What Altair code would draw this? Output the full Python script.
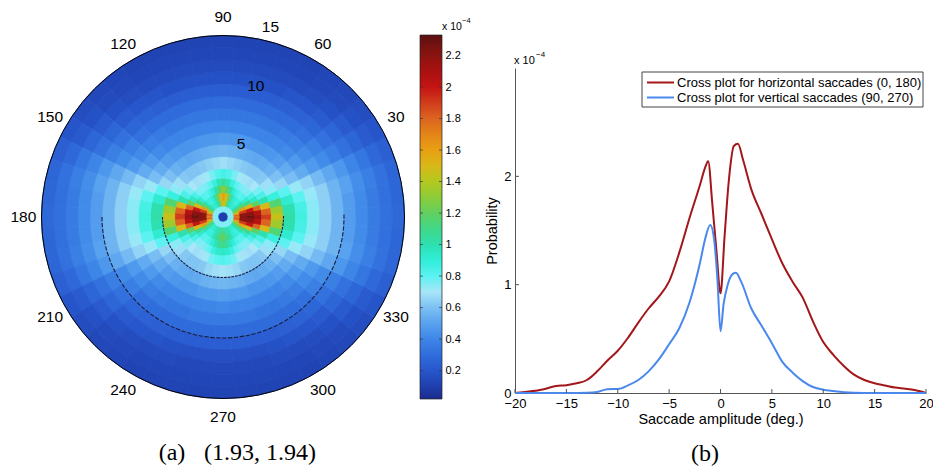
import math
import numpy as np
import pandas as pd
import altair as alt

# ---------------- panel (b): cross plots (probability in units of 1e-4) ----------------
H_LABEL = "Cross plot for horizontal saccades (0, 180)"
V_LABEL = "Cross plot for vertical saccades (90, 270)"
SERIES = [H_LABEL, V_LABEL]
SERIES_COLORS = ["#a3161a", "#4a88ee"]

H_AMP = [-20, -19, -18, -17, -16, -15, -14, -13, -12, -11, -10, -9, -8, -7, -6, -5, -4, -3, -2,
         -1.5, -1.2, -0.8, -0.4, 0, 0.4, 0.8, 1.3, 1.7, 2.2,
         3, 4, 5, 6, 7, 8, 9, 10, 11, 12, 13, 14, 15, 16, 17, 18, 19, 20]
H_PROB = [0.0, 0.01, 0.02, 0.04, 0.065, 0.072, 0.09, 0.12, 0.2, 0.3, 0.39, 0.51, 0.65, 0.78, 0.89, 1.03, 1.3, 1.62, 1.92,
          2.08, 2.14, 1.75, 1.32, 0.92, 1.45, 1.95, 2.28, 2.3, 2.15,
          1.88, 1.65, 1.42, 1.2, 1.03, 0.88, 0.66, 0.47, 0.35, 0.25, 0.17, 0.12, 0.09, 0.07, 0.05, 0.04, 0.025, 0.0]

V_AMP = [-20, -15, -13, -12, -11, -10, -9, -8, -7, -6, -5, -4, -3, -2,
         -1.5, -1, -0.6, -0.3, 0, 0.3, 0.7, 1.2, 1.5, 2,
         3, 4, 5, 6, 7, 8, 9, 10, 11, 12, 13, 15, 20]
V_PROB = [0.0, 0.0, 0.003, 0.01, 0.035, 0.037, 0.07, 0.12, 0.2, 0.31, 0.45, 0.6, 0.84, 1.2,
          1.42, 1.55, 1.4, 1.05, 0.57, 0.82, 1.0, 1.1, 1.11, 1.03,
          0.78, 0.62, 0.46, 0.29, 0.19, 0.11, 0.055, 0.03, 0.018, 0.008, 0.003, 0.0, 0.0]

X_TICKS = [-20, -15, -10, -5, 0, 5, 10, 15, 20]
Y_TICKS = [0, 1, 2]

# ---------------- panel (a): polar density (units of 1e-4) ----------------
# radial ring edges (deg.) and, per direction, the value read in each ring
RING_EDGES = [0, 0.4, 0.9, 1.4, 2.0, 2.6, 3.2, 4.0, 5.0, 6.0, 7.0, 8.0, 9.0, 10.0, 11.0, 12.0, 13.0, 14.0, 15.0]
U0 = [0.10, 0.75, 1.70, 2.20, 2.28, 2.15, 1.90, 1.45, 1.02, 0.86, 0.74, 0.64, 0.56, 0.48, 0.42, 0.36, 0.31, 0.28]
U7 = [0.10, 0.75, 1.80, 2.20, 2.20, 2.05, 1.80, 1.35, 1.00, 0.85, 0.74, 0.64, 0.56, 0.48, 0.42, 0.36, 0.31, 0.27]
U15 = [0.10, 0.75, 1.55, 1.90, 2.00, 1.80, 1.50, 1.15, 0.92, 0.80, 0.72, 0.64, 0.56, 0.50, 0.43, 0.37, 0.32, 0.27]
U22 = [0.10, 0.75, 1.30, 1.60, 1.50, 1.20, 1.00, 0.88, 0.80, 0.72, 0.65, 0.58, 0.52, 0.46, 0.40, 0.34, 0.28, 0.24]
U30 = [0.10, 0.75, 1.15, 1.20, 1.10, 0.95, 0.84, 0.74, 0.66, 0.59, 0.53, 0.47, 0.42, 0.37, 0.32, 0.27, 0.22, 0.19]
U37 = [0.10, 0.75, 1.00, 1.00, 0.92, 0.84, 0.76, 0.68, 0.60, 0.53, 0.47, 0.42, 0.37, 0.32, 0.27, 0.22, 0.18, 0.16]
U45 = [0.10, 0.75, 0.92, 0.88, 0.82, 0.76, 0.70, 0.62, 0.55, 0.48, 0.42, 0.37, 0.32, 0.27, 0.22, 0.18, 0.15, 0.14]
U52 = [0.10, 0.75, 0.92, 0.88, 0.81, 0.75, 0.68, 0.61, 0.53, 0.46, 0.40, 0.35, 0.30, 0.25, 0.20, 0.16, 0.14, 0.13]
U60 = [0.10, 0.75, 0.95, 0.92, 0.84, 0.76, 0.69, 0.61, 0.52, 0.45, 0.39, 0.34, 0.29, 0.24, 0.19, 0.15, 0.13, 0.12]
U67 = [0.10, 0.75, 1.00, 1.00, 0.90, 0.80, 0.71, 0.62, 0.53, 0.45, 0.39, 0.34, 0.29, 0.23, 0.18, 0.15, 0.13, 0.12]
U75 = [0.10, 0.75, 1.15, 1.25, 1.02, 0.88, 0.76, 0.64, 0.54, 0.46, 0.39, 0.34, 0.29, 0.23, 0.18, 0.15, 0.13, 0.12]
U82 = [0.10, 0.75, 1.40, 1.48, 1.18, 0.98, 0.82, 0.66, 0.55, 0.46, 0.39, 0.34, 0.29, 0.23, 0.18, 0.15, 0.13, 0.12]
U90 = [0.10, 0.75, 1.50, 1.60, 1.30, 1.05, 0.85, 0.68, 0.56, 0.47, 0.40, 0.34, 0.29, 0.23, 0.18, 0.15, 0.13, 0.12]
L75 = [0.10, 0.75, 0.98, 1.05, 0.98, 0.88, 0.77, 0.66, 0.55, 0.47, 0.40, 0.35, 0.29, 0.23, 0.17, 0.14, 0.13, 0.12]
L82 = [0.10, 0.75, 1.05, 1.15, 1.06, 0.93, 0.80, 0.68, 0.56, 0.47, 0.40, 0.35, 0.29, 0.23, 0.17, 0.14, 0.13, 0.12]
L90 = [0.10, 0.75, 1.08, 1.20, 1.10, 0.95, 0.82, 0.69, 0.57, 0.48, 0.41, 0.35, 0.29, 0.23, 0.17, 0.14, 0.13, 0.12]
SECTOR = 7.5  # angular width of the sectors the values were read on

ANGLE_TICKS = [30, 60, 90, 120, 150, 180, 210, 240, 270, 300, 330]
RADIAL_TICKS = [5, 10, 15]
GRID_RINGS = [5, 10]

COLOR_STOPS = [0.02, 0.1, 0.2, 0.3, 0.4, 0.5, 0.6, 0.7, 0.8, 0.9, 1.0, 1.1, 1.2, 1.3, 1.4, 1.5,
               1.6, 1.7, 1.8, 1.9, 2.0, 2.1, 2.2, 2.33]
COLOR_HEX = ["#1b2c8c", "#1f3fae", "#2756cc", "#306ddc", "#3d86e8", "#58a2ef", "#7cc0f3", "#a8e6f8",
             "#5cf2f2", "#30eed8", "#2ee0b0", "#40d888", "#62d060", "#8ccc38", "#b4c820", "#d8b818",
             "#e8a012", "#e48418", "#dc6420", "#d03c1c", "#c41414", "#aa1010", "#8c1410", "#5a1010"]
COLORBAR_TICKS = [0.2, 0.4, 0.6, 0.8, 1.0, 1.2, 1.4, 1.6, 1.8, 2.0, 2.2]

# ---------------- layout constants ----------------
W, H = 933, 470
CX, CY, R_PX = 223, 217, 181.5
CB_X0, CB_X1, CB_Y0, CB_Y1 = 420, 442, 399, 35
FONT = "Liberation Sans"
SERIF = "Liberation Serif"

# ---------------- build tables ----------------
upper = {0.0: U0, 7.5: U7, 15.0: U15, 22.5: U22, 30.0: U30, 37.5: U37, 45.0: U45, 52.5: U52,
         60.0: U60, 67.5: U67, 75.0: U75, 82.5: U82, 90.0: U90}
lower = dict(upper)
lower.update({75.0: L75, 82.5: L82, 90.0: L90})
rows = []
for k in range(int(360 / SECTOR)):
    a = k * SECTOR
    if a <= 180:
        prof = upper[a if a <= 90 else 180 - a]
    else:
        prof = lower[a - 180 if a <= 270 else 360 - a]
    for i, v in enumerate(prof):
        rows.append(dict(t0=a - SECTOR / 2, t1=a + SECTOR / 2, r0=RING_EDGES[i], r1=RING_EDGES[i + 1],
                         v=v, edge=v))
cells = pd.DataFrame(rows)

dash_rows = []
for r, step in zip(GRID_RINGS, [3.5, 2.8]):
    for s in np.arange(180.0, 360.0, step):
        dash_rows.append(dict(t0=s, t1=s + step * 0.72, r0=r - 0.045, r1=r + 0.045))
dashes = pd.DataFrame(dash_rows)

outline = pd.DataFrame({"t0": [90], "t1": [-270], "r": [15]})
ang_lab = pd.DataFrame({"ang": ANGLE_TICKS, "r": [16.5] * len(ANGLE_TICKS),
                        "label": [str(a) for a in ANGLE_TICKS]})
rad_lab = pd.DataFrame({"ang": [76] * len(RADIAL_TICKS), "r": [t + 1.2 for t in RADIAL_TICKS],
                        "label": [str(t) for t in RADIAL_TICKS]})

lines_df = pd.concat([
    pd.DataFrame({"amp": H_AMP, "prob": H_PROB, "series": H_LABEL}),
    pd.DataFrame({"amp": V_AMP, "prob": V_PROB, "series": V_LABEL}),
], ignore_index=True)

# ---------------- scales ----------------
THETA_SCALE = alt.Scale(domain=[90, -270], range=[0, 2 * math.pi], nice=False, zero=False)
RADIUS_SCALE = alt.Scale(type="linear", domain=[0, 15], range=[0, R_PX], nice=False, zero=True)
X_SCALE = alt.Scale(domain=[-20, 20], range=[515, 926], nice=False, zero=False)
Y_SCALE = alt.Scale(domain=[0, 3], range=[393, 68], nice=False, zero=False)
HEAT_SCALE = dict(type="linear", domain=COLOR_STOPS, range=COLOR_HEX, interpolate="rgb")

heat = alt.Chart(cells).mark_arc(strokeWidth=0.8).encode(
    theta=alt.Theta("t0:Q", scale=THETA_SCALE, stack=False),
    theta2="t1:Q",
    radius=alt.Radius("r1:Q", scale=RADIUS_SCALE),
    radius2="r0:Q",
    x=alt.value(CX), y=alt.value(CY),
    fill=alt.Fill("v:Q", scale=alt.Scale(**HEAT_SCALE), legend=None),
    stroke=alt.Stroke("edge:Q", scale=alt.Scale(**HEAT_SCALE), legend=None),
)

grid_dash = alt.Chart(dashes).mark_arc(color="#1c1c3a").encode(
    theta=alt.Theta("t0:Q", stack=False), theta2="t1:Q",
    radius="r1:Q", radius2="r0:Q",
    x=alt.value(CX), y=alt.value(CY),
)

circle = alt.Chart(outline).mark_arc(filled=False, stroke="black", strokeWidth=1).encode(
    theta=alt.Theta("t0:Q", stack=False), theta2="t1:Q", radius="r:Q",
    x=alt.value(CX), y=alt.value(CY),
)

ang_text = alt.Chart(ang_lab).mark_text(fontSize=15.5, font=FONT, color="black",
                                         align="center", baseline="middle").encode(
    theta=alt.Theta("ang:Q", stack=False), radius="r:Q", text="label:N",
    x=alt.value(CX), y=alt.value(CY),
)
rad_text = alt.Chart(rad_lab).mark_text(fontSize=15.5, font=FONT, color="black",
                                         align="center", baseline="middle").encode(
    theta=alt.Theta("ang:Q", stack=False), radius="r:Q", text="label:N",
    x=alt.value(CX), y=alt.value(CY),
)

x_axis = alt.Axis(orient="bottom", offset=-77, values=X_TICKS, format="d",
                  title="Saccade amplitude (deg.)", grid=False, ticks=False, labelPadding=4,
                  titlePadding=2, labelFontSize=13, titleFontSize=14.5, labelFlush=False)
y_axis = alt.Axis(orient="left", offset=-515, values=Y_TICKS, format="d", title="Probability",
                  grid=False, ticks=False, labelPadding=4, titlePadding=4, labelFontSize=13,
                  titleFontSize=14.5)

lines = alt.Chart(lines_df).mark_line(strokeWidth=2, interpolate="monotone").encode(
    x=alt.X("amp:Q", scale=X_SCALE, axis=x_axis),
    y=alt.Y("prob:Q", scale=Y_SCALE, axis=y_axis),
    color=alt.Color("series:N", scale=alt.Scale(domain=SERIES, range=SERIES_COLORS), legend=None),
)

xt = alt.Chart(pd.DataFrame({"amp": X_TICKS})).mark_rule(color="#555").encode(
    x="amp:Q", y=alt.value(393), y2=alt.value(389))
yt = alt.Chart(pd.DataFrame({"prob": Y_TICKS[1:]})).mark_rule(color="#555").encode(
    y="prob:Q", x=alt.value(515), x2=alt.value(519))


def one():
    return pd.DataFrame({"k": [0]})


def note(txt, px, py, size, font=FONT, align="left"):
    return alt.Chart(pd.DataFrame({"t": [txt]})).mark_text(
        font=font, fontSize=size, align=align, baseline="middle", color="black"
    ).encode(text="t:N", x=alt.value(px), y=alt.value(py))


# legend box for panel (b)
leg_box = alt.Chart(one()).mark_rect(fill="white", stroke="#444", strokeWidth=1).encode(
    x=alt.value(642), x2=alt.value(923), y=alt.value(72), y2=alt.value(107))
leg_items = []
for name, col, ly in zip(SERIES, SERIES_COLORS, [82.5, 97.5]):
    leg_items.append(alt.Chart(one()).mark_rule(color=col, strokeWidth=2).encode(
        x=alt.value(647), x2=alt.value(674), y=alt.value(ly)))
    leg_items.append(note(name, 677, ly, 13))

notes = [
    note("x 10", 442, 27, 10.5),
    note("\u22124", 462, 21, 7.5),
    note("x 10", 514, 61, 11),
    note("\u22124", 536, 55, 8),
    note("(a)", 172, 453, 24, font=SERIF, align="center"),
    note("(1.93, 1.94)", 260, 453, 24, font=SERIF, align="center"),
    note("(b)", 705, 454, 24, font=SERIF, align="center"),
]

# colour bar: one rect filled with the heat map's colour ramp, with its own value axis
lo, hi = COLOR_STOPS[0], COLOR_STOPS[-1]
cb_gradient = alt.LinearGradient(
    gradient="linear", x1=0, x2=0, y1=1, y2=0,
    stops=[alt.GradientStop(offset=(s - lo) / (hi - lo), color=c) for s, c in zip(COLOR_STOPS, COLOR_HEX)],
)
colorbar = alt.Chart(pd.DataFrame({"lo": [lo], "hi": [hi]})).mark_rect(
    fill=cb_gradient, stroke="#222", strokeWidth=0.7
).encode(
    y=alt.Y("lo:Q", scale=alt.Scale(domain=[lo, hi], range=[CB_Y0, CB_Y1], nice=False, zero=False),
            axis=alt.Axis(orient="right", offset=CB_X1 - W, values=COLORBAR_TICKS, format=".2~f",
                          domain=False, ticks=False, grid=False, labelPadding=3, labelFontSize=11,
                          title=None)),
    y2="hi:Q",
    x=alt.value(CB_X0), x2=alt.value(CB_X1),
)
cb_ticks = alt.Chart(pd.DataFrame({"v": COLORBAR_TICKS})).mark_rule(color="#333", strokeWidth=0.7).encode(
    y="v:Q", x=alt.value(CB_X1 - 3), x2=alt.value(CB_X1))
cb_ticks_l = alt.Chart(pd.DataFrame({"v": COLORBAR_TICKS})).mark_rule(color="#333", strokeWidth=0.7).encode(
    y="v:Q", x=alt.value(CB_X0), x2=alt.value(CB_X0 + 3))

main = alt.layer(heat, grid_dash, circle, ang_text, rad_text, lines, xt, yt,
                 leg_box, *leg_items, *notes)
bar = alt.layer(colorbar, cb_ticks, cb_ticks_l)

chart = alt.layer(main, bar).resolve_scale(y="independent").properties(
    width=W, height=H, autosize=alt.AutoSizeParams(type="none"), padding=0,
).configure(font=FONT).configure_view(strokeWidth=0).configure_axis(
    labelFont=FONT, titleFont=FONT, labelColor="black", titleColor="black", titleFontWeight="normal",
    domainColor="#555", domainWidth=1,
)

chart.save("out.html", embed_options={"renderer": "svg", "actions": False})
